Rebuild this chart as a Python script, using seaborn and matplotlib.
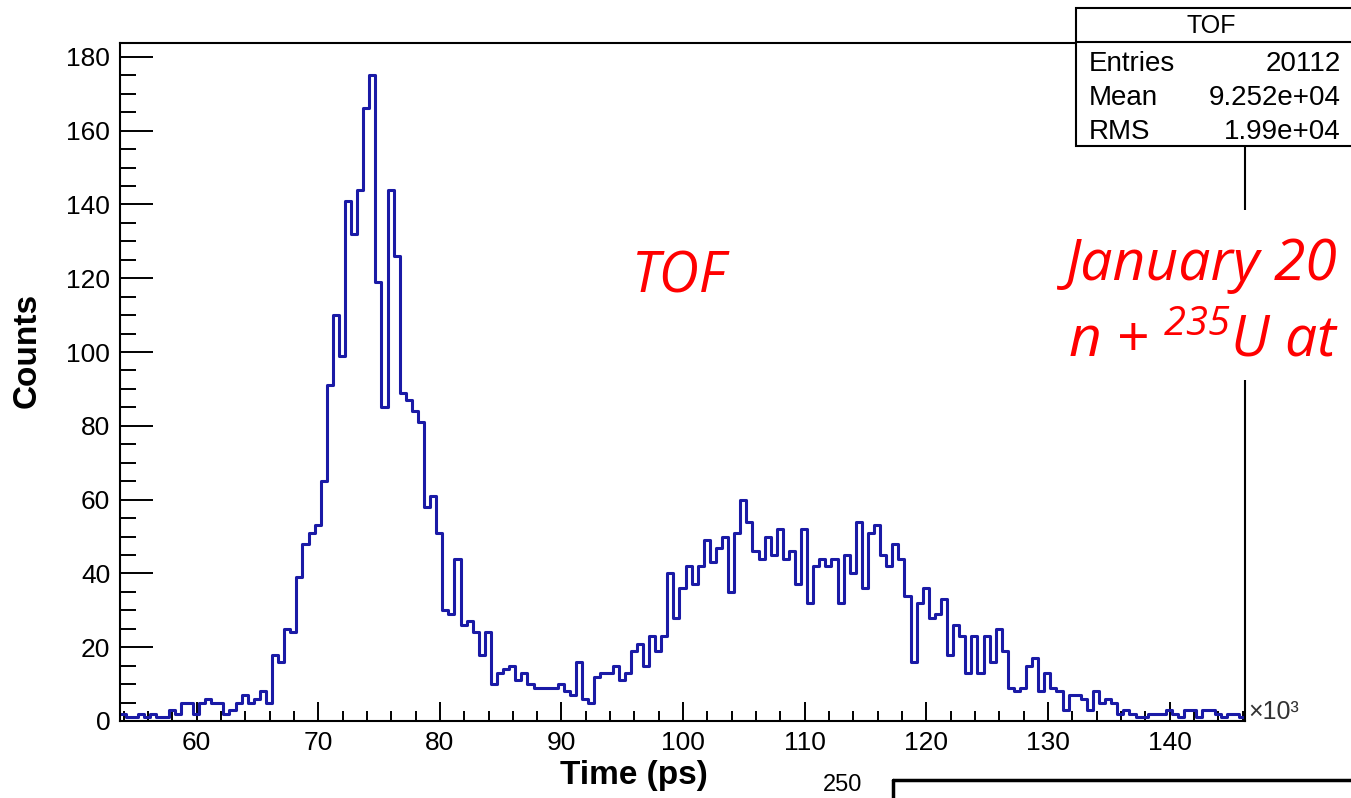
import pandas as pd
import seaborn as sns
import matplotlib.pyplot as plt
from matplotlib.lines import Line2D
from matplotlib.patches import Rectangle
from matplotlib.ticker import MultipleLocator

# TOF histogram: bins of 0.5 (x10^3 ps) starting at 53.7
bin_start = 53.7
bin_width = 0.5

counts_low = [2, 1, 1, 2, 1, 2, 1, 1, 3, 2, 5, 5, 2, 5, 6, 5, 5, 2, 3, 5,
              7, 5, 6, 8, 5, 18, 16, 25, 24, 39, 48, 51, 53, 65, 91, 110, 99]
counts_peak = [141, 132, 144, 166, 175, 119, 85, 144, 126, 89, 87, 84, 81, 58,
               61, 51, 30, 29, 44, 26, 27, 24, 18, 24]
counts_valley = [10, 13, 14, 15, 11, 13, 10, 9, 9, 9, 9, 10, 8, 7, 16, 6, 5, 12,
                 13, 13, 15, 11, 13, 19, 21, 15, 23, 19, 23]
counts_hump = [40, 28, 36, 42, 37, 42, 49, 43, 47, 50, 35, 51, 60, 54, 46, 44,
               50, 45, 52, 44, 46, 37, 52, 32, 42, 44, 42, 44, 32, 45, 40, 54,
               36, 51, 53, 45, 42, 48, 44, 34, 16, 32, 36, 28, 29, 33, 18, 26,
               23, 13, 23, 13, 23, 16, 25, 19]
counts_tail = [9, 8, 9, 15, 17, 8, 13, 9, 8, 3, 7, 7, 6, 3, 8, 5, 6, 5, 2, 3,
               2, 1, 1, 2, 2, 2, 3, 2, 1, 3, 3, 1, 3, 3, 2, 1, 2, 2, 1]

x_ticks = [60, 70, 80, 90, 100, 110, 120, 130, 140]
y_ticks = [0, 20, 40, 60, 80, 100, 120, 140, 160, 180]

stat_names = ["Entries", "Mean", "RMS"]
stat_values = ["20112", "9.252e+04", "1.99e+04"]

counts = counts_low + counts_peak + counts_valley + counts_hump + counts_tail
edges = [bin_start + bin_width * i for i in range(len(counts) + 1)]
tof = pd.DataFrame({"time": [e + bin_width / 2 for e in edges[:-1]], "count": counts})

sns.set_style("white")
plt.rcParams["font.family"] = ["Liberation Sans", "DejaVu Sans"]
plt.rcParams["text.color"] = "black"
plt.rcParams["axes.labelcolor"] = "black"
plt.rcParams["xtick.color"] = "black"
plt.rcParams["ytick.color"] = "black"
plt.rcParams["mathtext.fontset"] = "custom"
plt.rcParams["mathtext.rm"] = "Open Sans:italic"
plt.rcParams["mathtext.it"] = "Open Sans:italic"

W, H = 1351, 798
fig = plt.figure(figsize=(W / 100, H / 100), dpi=100)
ax = fig.add_axes([120 / W, 1 - 721 / H, 1125 / W, 678 / H])

sns.histplot(data=tof, x="time", weights="count", bins=edges, element="step",
             fill=False, color="#1a1aa6", linewidth=2.2, ax=ax)

ax.set_xlim(edges[0], edges[-1])
ax.set_ylim(0, 175 * 1.05)
ax.set_xticks(x_ticks)
ax.set_yticks(y_ticks)
ax.xaxis.set_minor_locator(MultipleLocator(2))
ax.yaxis.set_minor_locator(MultipleLocator(5))
ax.tick_params(which="both", bottom=True, left=True, top=False, right=False,
               colors="black")
ax.tick_params(axis="y", which="major", direction="in", length=24, width=1.4,
               labelsize=19, pad=7)
ax.tick_params(axis="y", which="minor", direction="in", length=11.5, width=1.4)
ax.tick_params(axis="x", which="major", direction="in", length=14, width=1.4,
               labelsize=19, pad=7)
ax.tick_params(axis="x", which="minor", direction="in", length=7, width=1.4)
for s in ax.spines.values():
    s.set_linewidth(1.5)
    s.set_color("black")

ax.set_xlabel("Time (ps)", fontsize=24, fontweight="bold")
ax.set_ylabel("Counts", fontsize=24, fontweight="bold")
ax.xaxis.set_label_coords(0.457, -0.058)
ax.yaxis.set_label_coords(-0.069, 0.547)

# x10^3 multiplier next to the axis end
fig.text(1248 / W, 1 - 712 / H, "×10³", fontsize=18, color="#333333", va="center")

# stats box (cut by the right edge)
fig.add_artist(Rectangle((1076 / W, 1 - 146 / H), 290 / W, 138 / H,
                         transform=fig.transFigure, facecolor="white",
                         edgecolor="black", linewidth=1.5, zorder=5))
fig.add_artist(Line2D([1076 / W, 1.01], [1 - 42 / H, 1 - 42 / H],
                      transform=fig.transFigure, color="black", linewidth=1.5, zorder=6))
fig.text(1211 / W, 1 - 26 / H, "TOF", fontsize=18, ha="center", va="center", zorder=7)
for i, (name, val) in enumerate(zip(stat_names, stat_values)):
    yy = 1 - (64 + 34 * i) / H
    fig.text(1089 / W, yy, name, fontsize=20, va="center", zorder=7)
    fig.text(1341 / W, yy, val, fontsize=20, va="center", ha="right", zorder=7)

# slide annotations
fig.add_artist(Rectangle((1060 / W, 1 - 380 / H), 300 / W, 170 / H,
                         transform=fig.transFigure, facecolor="white",
                         edgecolor="none", zorder=5))
fig.text(679 / W, 1 - 278 / H, "TOF", color="red", fontsize=40, fontstyle="italic",
         family="Open Sans", ha="center", va="center", zorder=7)
fig.text(1066 / W, 1 - 265 / H, "January 20", color="red", fontsize=41,
         fontstyle="italic", family="Open Sans", va="center", zorder=7)
fig.text(1068 / W, 1 - 342 / H, "n + $^{235}$U at", color="red", fontsize=41,
         fontstyle="italic", family="Open Sans", va="center", zorder=7)

# start of the next panel at the bottom of the slide
fig.text(862 / W, 1 - 785 / H, "250", fontsize=17, ha="right", va="center")
fig.add_artist(Line2D([893 / W, 1.0], [1 - 780 / H, 1 - 780 / H],
                      transform=fig.transFigure, color="black", linewidth=2.5))
fig.add_artist(Line2D([893 / W, 893 / W], [1 - 780 / H, 0],
                      transform=fig.transFigure, color="black", linewidth=2.5))

fig.savefig("out.png", dpi=100)
